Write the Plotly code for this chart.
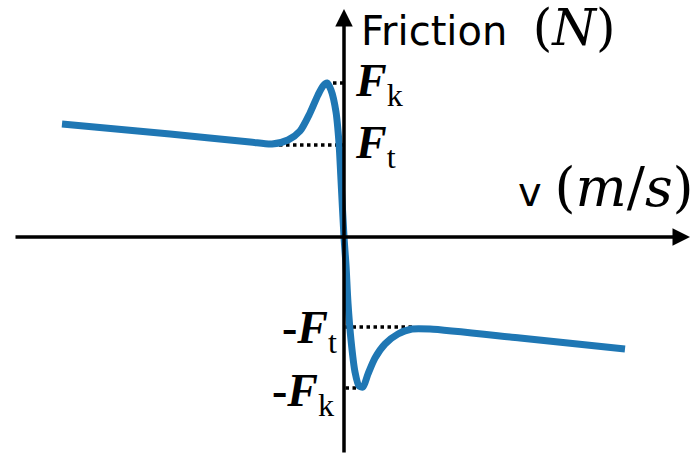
import plotly.graph_objects as go

# Friction force vs. sliding velocity (Stribeck-type curve), arbitrary units
velocity = [-2.82, -1.74, -0.94, -0.72, -0.56, -0.44, -0.34, -0.26, -0.21, -0.17,
            -0.13, -0.08, -0.05, -0.03, 0.0, 0.02, 0.04, 0.07, 0.11, 0.15,
            0.19, 0.24, 0.31, 0.41, 0.54, 0.68, 0.86, 1.76, 2.81]
friction = [1.13, 1.03, 0.95, 0.93, 0.97, 1.06, 1.24, 1.42, 1.51, 1.54,
            1.47, 1.25, 0.94, 0.57, 0.0, -0.28, -0.66, -1.03, -1.35, -1.49,
            -1.50, -1.37, -1.21, -1.07, -0.97, -0.92, -0.92, -1.01, -1.12]

# Characteristic levels and where the curve meets them
F_k_pos, F_t_pos = 1.54, 0.92
F_k_neg, F_t_neg = -1.51, -0.90
v_k_pos, v_t_pos = -0.18, -0.72
v_k_neg, v_t_neg = 0.19, 0.68

BLUE = "#1f77b4"
SERIF = "Liberation Serif"
MATH = "DejaVu Serif"
SANS = "DejaVu Sans"

fig = go.Figure()

# dotted guide lines from the curve to the friction axis
for v_end, level in [(v_k_pos, F_k_pos), (v_t_pos, F_t_pos),
                     (v_k_neg, F_k_neg), (v_t_neg, F_t_neg)]:
    fig.add_trace(go.Scatter(
        x=[v_end, 0], y=[level, level], mode="lines",
        line=dict(color="black", width=3.5, dash="3.5px,3.5px"),
        hoverinfo="skip", showlegend=False))

fig.add_trace(go.Scatter(
    x=velocity, y=friction, mode="lines",
    line=dict(color=BLUE, width=7, shape="spline", smoothing=0.7),
    showlegend=False))

# axes drawn as arrows crossing at the origin
fig.add_annotation(x=3.46, y=0, ax=-3.30, ay=0, xref="x", yref="y",
                   axref="x", ayref="y", text="", showarrow=True,
                   arrowhead=2, arrowsize=1.0, arrowwidth=3.5, arrowcolor="black")
fig.add_annotation(x=0, y=2.28, ax=0, ay=-2.17, xref="x", yref="y",
                   axref="x", ayref="y", text="", showarrow=True,
                   arrowhead=2, arrowsize=1.0, arrowwidth=3.5, arrowcolor="black")

def level_label(text, y, x, anchor):
    fig.add_annotation(x=x, y=y, xref="x", yref="y", text=text, showarrow=False,
                       xanchor=anchor, yanchor="middle",
                       font=dict(family=SERIF, size=46, color="black"))

level_label("<b><i>F</i></b><sub>k</sub>", F_k_pos - 0.01, 0.09, "left")
level_label("<b><i>F</i></b><sub>t</sub>", F_t_pos - 0.01, 0.09, "left")
level_label("<b>-<i>F</i></b><sub>t</sub>", F_t_neg - 0.04, -0.05, "right")
level_label("<b>-<i>F</i></b><sub>k</sub>", F_k_neg - 0.06, -0.07, "right")

fig.add_annotation(
    x=0.15, y=2.09, xref="x", yref="y", xanchor="left", yanchor="middle",
    showarrow=False,
    text=("Friction&nbsp;&nbsp;<span style=\"font-family:'%s';font-size:50px\">"
          "(<i>N</i>)</span>" % MATH),
    font=dict(family=SANS, size=40, color="black"))
fig.add_annotation(
    x=1.72, y=0.50, xref="x", yref="y", xanchor="left", yanchor="middle",
    showarrow=False,
    text=("v&nbsp;<span style=\"font-family:'%s';font-size:54px\">"
          "(<i>m</i>/<i>s</i>)</span>" % MATH),
    font=dict(family=SANS, size=40, color="black"))

fig.update_layout(
    width=697, height=454, margin=dict(l=0, r=0, t=0, b=0),
    paper_bgcolor="white", plot_bgcolor="white",
    xaxis=dict(range=[-3.44, 3.53], visible=False, fixedrange=True),
    yaxis=dict(range=[-2.17, 2.37], visible=False, fixedrange=True),
)

fig.write_html("out.html")
